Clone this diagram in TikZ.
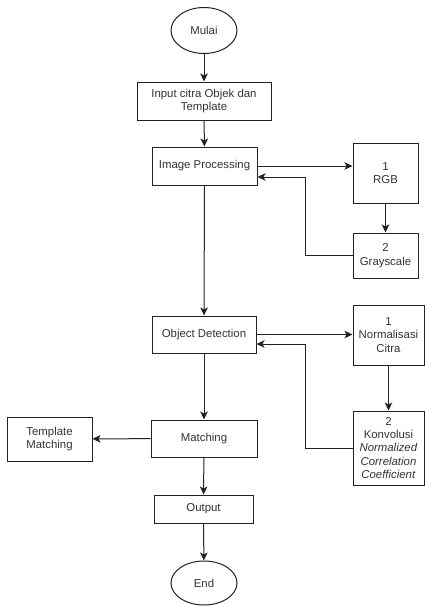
\documentclass[tikz,border=0pt]{standalone}
\usepackage{fontspec}
\setmainfont{Liberation Sans}
\usetikzlibrary{arrows.meta,shapes.geometric}
\definecolor{ink}{HTML}{222222}
\definecolor{txt}{HTML}{333333}
\tikzset{
  flowbox/.style={draw=ink, line width=1pt, rectangle, inner sep=0pt,
    align=center, text=txt, font=\fontsize{11.4}{13.4}\selectfont},
  terminal/.style={draw=ink, line width=1pt, ellipse, inner sep=0pt,
    minimum width=66pt, minimum height=46pt, text=txt,
    font=\fontsize{11.4}{13.4}\selectfont},
  flow/.style={draw=ink, line width=1pt, -{Stealth[length=8pt,width=7.5pt,inset=2pt]}},
}
\begin{document}
\begin{tikzpicture}[x=1pt,y=-1pt]
\useasboundingbox (0,0) rectangle (425,606);

% main column
\node[terminal] (mulai) at (204,30.5) {Mulai};
\node[flowbox, minimum width=134pt, minimum height=38pt] (input) at (204,101) {Input citra Objek dan\\Template};
\node[flowbox, minimum width=105pt, minimum height=38pt] (ip) at (204.5,166) {Image Processing};
\node[flowbox, minimum width=104pt, minimum height=37pt] (od) at (204,334.5) {Object Detection};
\node[flowbox, minimum width=106pt, minimum height=37pt] (match) at (204,438.5) {Matching};
\node[flowbox, minimum width=99pt, minimum height=28pt] (out) at (203.5,509) {Output};
\node[terminal, minimum height=44pt] (end) at (204,583) {End};

% side boxes
\node[flowbox, minimum width=65pt, minimum height=60pt] (rgb) at (385.5,173) {1\\RGB};
\node[flowbox, minimum width=65pt, minimum height=45pt] (gray) at (385.5,255.5) {2\\Grayscale};
\node[flowbox, minimum width=71pt, minimum height=60pt] (norm) at (388.5,335) {1\\Normalisasi\\Citra};
\node[flowbox, minimum width=71pt, minimum height=74pt] (konv) at (388.5,448) {2\\Konvolusi\\\textit{Normalized}\\\textit{Correlation}\\\textit{Coefficient}};
\node[flowbox, minimum width=85pt, minimum height=44pt] (tm) at (49.5,439) {Template\\Matching};

% bend points of the feedback lines
\coordinate (ipback) at (305,177);
\coordinate (odback) at (305,344);

% main flow
\draw[flow] (mulai) -- (input);
\draw[flow] (input) -- (ip);
\draw[flow] (ip) -- (od);
\draw[flow] (od) -- (match);
\draw[flow] (match) -- (out);
\draw[flow] (out) -- (end);
\draw[flow] (match) -- (tm);

% image processing loop
\draw[flow] (ip.east) -- (ip.east -| rgb.west);
\draw[flow] (rgb) -- (gray);
\draw[flow] (gray.west) -| (ipback) -- (ipback -| ip.east);

% object detection loop
\draw[flow] (od.east) -- (od.east -| norm.west);
\draw[flow] (norm) -- (konv);
\draw[flow] (konv.west) -| (odback) -- (odback -| od.east);
\end{tikzpicture}
\end{document}
